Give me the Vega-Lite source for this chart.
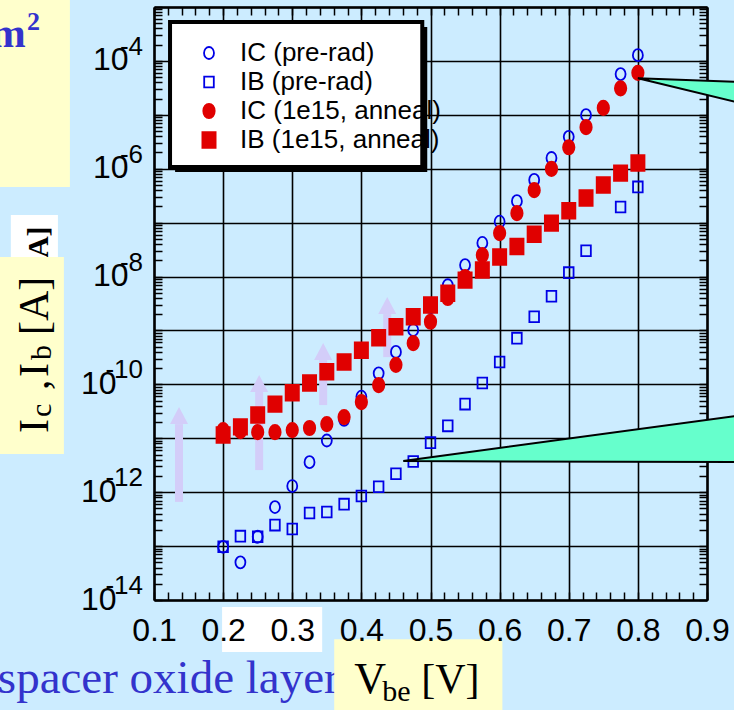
{
  "$schema": "https://vega.github.io/schema/vega-lite/v6.json",
  "width": 553,
  "height": 593,
  "autosize": {"type": "none"},
  "padding": {"left": 154, "top": 7, "right": 27, "bottom": 110},
  "config": {
    "background": "#CCECFF",
    "view": {"stroke": null},
    "font": "Liberation Sans"
  },
  "resolve": {"axis": {"x": "independent", "y": "independent"}},
  "datasets": {
    "pts": [
      {"s": "IC (pre-rad)", "x": 0.2, "y": 9.7e-14},
      {"s": "IC (pre-rad)", "x": 0.225, "y": 5.0e-14},
      {"s": "IC (pre-rad)", "x": 0.25, "y": 1.49e-13},
      {"s": "IC (pre-rad)", "x": 0.275, "y": 5.3e-13},
      {"s": "IC (pre-rad)", "x": 0.3, "y": 1.3e-12},
      {"s": "IC (pre-rad)", "x": 0.325, "y": 3.6e-12},
      {"s": "IC (pre-rad)", "x": 0.35, "y": 9.1e-12},
      {"s": "IC (pre-rad)", "x": 0.375, "y": 2.2e-11},
      {"s": "IC (pre-rad)", "x": 0.4, "y": 5.9e-11},
      {"s": "IC (pre-rad)", "x": 0.425, "y": 1.6e-10},
      {"s": "IC (pre-rad)", "x": 0.45, "y": 4.0e-10},
      {"s": "IC (pre-rad)", "x": 0.475, "y": 1.02e-9},
      {"s": "IC (pre-rad)", "x": 0.5, "y": 2.7e-9},
      {"s": "IC (pre-rad)", "x": 0.525, "y": 6.9e-9},
      {"s": "IC (pre-rad)", "x": 0.55, "y": 1.63e-8},
      {"s": "IC (pre-rad)", "x": 0.575, "y": 4.2e-8},
      {"s": "IC (pre-rad)", "x": 0.6, "y": 1.04e-7},
      {"s": "IC (pre-rad)", "x": 0.625, "y": 2.5e-7},
      {"s": "IC (pre-rad)", "x": 0.65, "y": 6.2e-7},
      {"s": "IC (pre-rad)", "x": 0.675, "y": 1.58e-6},
      {"s": "IC (pre-rad)", "x": 0.7, "y": 3.9e-6},
      {"s": "IC (pre-rad)", "x": 0.725, "y": 9.9e-6},
      {"s": "IC (pre-rad)", "x": 0.775, "y": 5.7e-5},
      {"s": "IC (pre-rad)", "x": 0.8, "y": 1.28e-4},
      {"s": "IB (pre-rad)", "x": 0.2, "y": 9.7e-14},
      {"s": "IB (pre-rad)", "x": 0.225, "y": 1.53e-13},
      {"s": "IB (pre-rad)", "x": 0.25, "y": 1.49e-13},
      {"s": "IB (pre-rad)", "x": 0.275, "y": 2.45e-13},
      {"s": "IB (pre-rad)", "x": 0.3, "y": 2.07e-13},
      {"s": "IB (pre-rad)", "x": 0.325, "y": 4.1e-13},
      {"s": "IB (pre-rad)", "x": 0.35, "y": 4.3e-13},
      {"s": "IB (pre-rad)", "x": 0.375, "y": 6.0e-13},
      {"s": "IB (pre-rad)", "x": 0.4, "y": 8.5e-13},
      {"s": "IB (pre-rad)", "x": 0.425, "y": 1.26e-12},
      {"s": "IB (pre-rad)", "x": 0.45, "y": 2.2e-12},
      {"s": "IB (pre-rad)", "x": 0.475, "y": 3.7e-12},
      {"s": "IB (pre-rad)", "x": 0.5, "y": 8.3e-12},
      {"s": "IB (pre-rad)", "x": 0.525, "y": 1.7e-11},
      {"s": "IB (pre-rad)", "x": 0.55, "y": 4.3e-11},
      {"s": "IB (pre-rad)", "x": 0.575, "y": 1.06e-10},
      {"s": "IB (pre-rad)", "x": 0.6, "y": 2.6e-10},
      {"s": "IB (pre-rad)", "x": 0.625, "y": 7.2e-10},
      {"s": "IB (pre-rad)", "x": 0.65, "y": 1.8e-9},
      {"s": "IB (pre-rad)", "x": 0.675, "y": 4.3e-9},
      {"s": "IB (pre-rad)", "x": 0.7, "y": 1.18e-8},
      {"s": "IB (pre-rad)", "x": 0.725, "y": 3.0e-8},
      {"s": "IB (pre-rad)", "x": 0.775, "y": 1.95e-7},
      {"s": "IB (pre-rad)", "x": 0.8, "y": 4.6e-7},
      {"s": "IC (1e15, anneal)", "x": 0.2, "y": 1.42e-11},
      {"s": "IC (1e15, anneal)", "x": 0.225, "y": 1.36e-11},
      {"s": "IC (1e15, anneal)", "x": 0.25, "y": 1.3e-11},
      {"s": "IC (1e15, anneal)", "x": 0.275, "y": 1.3e-11},
      {"s": "IC (1e15, anneal)", "x": 0.3, "y": 1.42e-11},
      {"s": "IC (1e15, anneal)", "x": 0.325, "y": 1.55e-11},
      {"s": "IC (1e15, anneal)", "x": 0.35, "y": 1.83e-11},
      {"s": "IC (1e15, anneal)", "x": 0.375, "y": 2.47e-11},
      {"s": "IC (1e15, anneal)", "x": 0.4, "y": 4.7e-11},
      {"s": "IC (1e15, anneal)", "x": 0.425, "y": 9.7e-11},
      {"s": "IC (1e15, anneal)", "x": 0.45, "y": 2.3e-10},
      {"s": "IC (1e15, anneal)", "x": 0.475, "y": 5.8e-10},
      {"s": "IC (1e15, anneal)", "x": 0.5, "y": 1.45e-9},
      {"s": "IC (1e15, anneal)", "x": 0.525, "y": 4.0e-9},
      {"s": "IC (1e15, anneal)", "x": 0.55, "y": 9.8e-9},
      {"s": "IC (1e15, anneal)", "x": 0.575, "y": 2.5e-8},
      {"s": "IC (1e15, anneal)", "x": 0.6, "y": 6.4e-8},
      {"s": "IC (1e15, anneal)", "x": 0.625, "y": 1.5e-7},
      {"s": "IC (1e15, anneal)", "x": 0.65, "y": 4.0e-7},
      {"s": "IC (1e15, anneal)", "x": 0.675, "y": 9.9e-7},
      {"s": "IC (1e15, anneal)", "x": 0.7, "y": 2.5e-6},
      {"s": "IC (1e15, anneal)", "x": 0.725, "y": 5.9e-6},
      {"s": "IC (1e15, anneal)", "x": 0.75, "y": 1.34e-5},
      {"s": "IC (1e15, anneal)", "x": 0.775, "y": 3.1e-5},
      {"s": "IC (1e15, anneal)", "x": 0.8, "y": 6.0e-5},
      {"s": "IB (1e15, anneal)", "x": 0.2, "y": 1.15e-11},
      {"s": "IB (1e15, anneal)", "x": 0.225, "y": 1.63e-11},
      {"s": "IB (1e15, anneal)", "x": 0.25, "y": 2.7e-11},
      {"s": "IB (1e15, anneal)", "x": 0.275, "y": 4.3e-11},
      {"s": "IB (1e15, anneal)", "x": 0.3, "y": 7.0e-11},
      {"s": "IB (1e15, anneal)", "x": 0.325, "y": 1.06e-10},
      {"s": "IB (1e15, anneal)", "x": 0.35, "y": 1.71e-10},
      {"s": "IB (1e15, anneal)", "x": 0.375, "y": 2.6e-10},
      {"s": "IB (1e15, anneal)", "x": 0.4, "y": 4.3e-10},
      {"s": "IB (1e15, anneal)", "x": 0.425, "y": 7.3e-10},
      {"s": "IB (1e15, anneal)", "x": 0.45, "y": 1.17e-9},
      {"s": "IB (1e15, anneal)", "x": 0.475, "y": 1.8e-9},
      {"s": "IB (1e15, anneal)", "x": 0.5, "y": 2.96e-9},
      {"s": "IB (1e15, anneal)", "x": 0.525, "y": 4.9e-9},
      {"s": "IB (1e15, anneal)", "x": 0.55, "y": 8.6e-9},
      {"s": "IB (1e15, anneal)", "x": 0.575, "y": 1.32e-8},
      {"s": "IB (1e15, anneal)", "x": 0.6, "y": 2.3e-8},
      {"s": "IB (1e15, anneal)", "x": 0.625, "y": 3.6e-8},
      {"s": "IB (1e15, anneal)", "x": 0.65, "y": 6.1e-8},
      {"s": "IB (1e15, anneal)", "x": 0.675, "y": 9.8e-8},
      {"s": "IB (1e15, anneal)", "x": 0.7, "y": 1.66e-7},
      {"s": "IB (1e15, anneal)", "x": 0.725, "y": 2.86e-7},
      {"s": "IB (1e15, anneal)", "x": 0.75, "y": 5.0e-7},
      {"s": "IB (1e15, anneal)", "x": 0.775, "y": 8.3e-7},
      {"s": "IB (1e15, anneal)", "x": 0.8, "y": 1.28e-6}
    ],
    "arrows": [
      {"x": 0.1362, "y": 6.6e-13, "y2": 1.83e-11},
      {"x": 0.2521, "y": 2.57e-12, "y2": 7.2e-11},
      {"x": 0.3447, "y": 4.13e-11, "y2": 2.82e-10},
      {"x": 0.4374, "y": 3.2e-10, "y2": 2.01e-9}
    ],
    "tri": [
      {"g": "a", "x": 0.8, "y": 4.755e-5, "y2": 4.755e-5},
      {"g": "a", "x": 0.95, "y": 4.076e-5, "y2": 1.634e-5},
      {"g": "b", "x": 0.4606, "y": 3.776e-12, "y2": 3.776e-12},
      {"g": "b", "x": 0.95, "y": 2.683e-11, "y2": 3.617e-12}
    ],
    "triL": [
      {"g": "a", "o": 0, "x": 0.95, "y": 4.076e-5},
      {"g": "a", "o": 1, "x": 0.8, "y": 4.755e-5},
      {"g": "a", "o": 2, "x": 0.95, "y": 1.634e-5},
      {"g": "b", "o": 0, "x": 0.95, "y": 2.683e-11},
      {"g": "b", "o": 1, "x": 0.4606, "y": 3.776e-12},
      {"g": "b", "o": 2, "x": 0.95, "y": 3.617e-12}
    ],
    "expo": [
      {"y": 1e-4, "e": "-4"},
      {"y": 1e-6, "e": "-6"},
      {"y": 1e-8, "e": "-8"},
      {"y": 1e-10, "e": "-10"},
      {"y": 1e-12, "e": "-12"},
      {"y": 1e-14, "e": "-14"}
    ],
    "ytb": [
      {"t": "I", "y": 1.249e-11},
      {"t": ",", "y": 7.84e-11},
      {"t": "I", "y": 1.366e-10},
      {"t": "[A]", "y": 8.216e-10}
    ],
    "yts": [
      {"t": "c", "y": 2.473e-11},
      {"t": "b", "y": 2.823e-10}
    ],
    "one": [{}]
  },
  "layer": [
    {
      "data": {"name": "pts"},
      "mark": {"type": "point", "opacity": 0},
      "encoding": {
        "x": {"field": "x", "type": "quantitative", "scale": {"domain": [0.1, 0.9], "nice": false, "zero": false},
          "axis": {"orient": "top", "values": [0.1,0.12,0.14,0.16,0.18,0.2,0.22,0.24,0.26,0.28,0.3,0.32,0.34,0.36,0.38,0.4,0.42,0.44,0.46,0.48,0.5,0.52,0.54,0.56,0.58,0.6,0.62,0.64,0.66,0.68,0.7,0.72,0.74,0.76,0.78,0.8,0.82,0.84,0.86,0.88,0.9],
            "labels": false, "title": null, "tickSize": -8, "tickWidth": 1.5, "tickColor": "black", "domainColor": "black", "domainWidth": 2.5,
            "grid": true, "gridColor": "black", "gridWidth": 1.6,
            "gridOpacity": {"condition": {"test": "abs(datum.value*10 - round(datum.value*10)) < 1e-6", "value": 1}, "value": 0},
            "zindex": 0}},
        "y": {"field": "y", "type": "quantitative", "scale": {"type": "log", "domain": [1e-14, 1e-3], "nice": false},
          "axis": {"orient": "right", "values": [1e-14,2e-14,3e-14,4e-14,5e-14,6e-14,7e-14,8e-14,9e-14,1e-13,2e-13,3e-13,4e-13,5e-13,6e-13,7e-13,8e-13,9e-13,1e-12,2e-12,3e-12,4e-12,5e-12,6e-12,7e-12,8e-12,9e-12,1e-11,2e-11,3e-11,4e-11,5e-11,6e-11,7e-11,8e-11,9e-11,1e-10,2e-10,3e-10,4e-10,5e-10,6e-10,7e-10,8e-10,9e-10,1e-9,2e-9,3e-9,4e-9,5e-9,6e-9,7e-9,8e-9,9e-9,1e-8,2e-8,3e-8,4e-8,5e-8,6e-8,7e-8,8e-8,9e-8,1e-7,2e-7,3e-7,4e-7,5e-7,6e-7,7e-7,8e-7,9e-7,1e-6,2e-6,3e-6,4e-6,5e-6,6e-6,7e-6,8e-6,9e-6,1e-5,2e-5,3e-5,4e-5,5e-5,6e-5,7e-5,8e-5,9e-5,1e-4,2e-4,3e-4,4e-4,5e-4,6e-4,7e-4,8e-4,9e-4,1e-3],
            "labels": false, "title": null, "tickSize": -8, "tickWidth": 1.5, "tickColor": "black", "domainColor": "black", "domainWidth": 2.5,
            "grid": true, "gridColor": "black", "gridWidth": 1.6,
            "gridOpacity": {"condition": {"test": "abs(log(datum.value)/LN10 - round(log(datum.value)/LN10)) < 0.001", "value": 1}, "value": 0},
            "zindex": 0}}
      }
    },
    {
      "data": {"name": "arrows"},
      "mark": {"type": "rule", "color": "#D3CDF9", "strokeWidth": 8},
      "encoding": {
        "x": {"field": "x", "type": "quantitative", "scale": {"domain": [0.1, 0.9], "nice": false, "zero": false}, "axis": null},
        "y": {"field": "y", "type": "quantitative", "scale": {"type": "log", "domain": [1e-14, 1e-3], "nice": false}, "axis": null},
        "y2": {"field": "y2"}
      }
    },
    {
      "data": {"name": "arrows"},
      "mark": {"type": "point", "filled": true, "opacity": 1, "color": "#D3CDF9", "shape": "M0,-1.9L1,0L-1,0Z", "size": 324},
      "encoding": {
        "x": {"field": "x", "type": "quantitative", "scale": {"domain": [0.1, 0.9], "nice": false, "zero": false}, "axis": null},
        "y": {"field": "y2", "type": "quantitative", "scale": {"type": "log", "domain": [1e-14, 1e-3], "nice": false}, "axis": null}
      }
    },
    {
      "data": {"name": "pts"},
      "mark": {"type": "point", "filled": false, "opacity": 1, "size": 144, "strokeWidth": 1.8},
      "encoding": {
        "x": {"field": "x", "type": "quantitative", "scale": {"domain": [0.1, 0.9], "nice": false, "zero": false},
          "axis": {"orient": "bottom", "values": [0.1,0.12,0.14,0.16,0.18,0.2,0.22,0.24,0.26,0.28,0.3,0.32,0.34,0.36,0.38,0.4,0.42,0.44,0.46,0.48,0.5,0.52,0.54,0.56,0.58,0.6,0.62,0.64,0.66,0.68,0.7,0.72,0.74,0.76,0.78,0.8,0.82,0.84,0.86,0.88,0.9],
            "labelExpr": "abs(datum.value*10 - round(datum.value*10)) < 1e-6 ? format(datum.value, '.1f') : ''",
            "labelFont": "Liberation Sans", "labelFontSize": 32, "labelColor": "black", "labelBaseline": "alphabetic", "labelPadding": 48,
            "labelOverlap": false, "labelFlush": false, "labelBound": false,
            "title": null, "tickSize": -8, "tickWidth": 1.5, "tickColor": "black", "domainColor": "black", "domainWidth": 2.5,
            "grid": false, "zindex": 1}},
        "y": {"field": "y", "type": "quantitative", "scale": {"type": "log", "domain": [1e-14, 1e-3], "nice": false},
          "axis": {"orient": "left", "values": [1e-14,2e-14,3e-14,4e-14,5e-14,6e-14,7e-14,8e-14,9e-14,1e-13,2e-13,3e-13,4e-13,5e-13,6e-13,7e-13,8e-13,9e-13,1e-12,2e-12,3e-12,4e-12,5e-12,6e-12,7e-12,8e-12,9e-12,1e-11,2e-11,3e-11,4e-11,5e-11,6e-11,7e-11,8e-11,9e-11,1e-10,2e-10,3e-10,4e-10,5e-10,6e-10,7e-10,8e-10,9e-10,1e-9,2e-9,3e-9,4e-9,5e-9,6e-9,7e-9,8e-9,9e-9,1e-8,2e-8,3e-8,4e-8,5e-8,6e-8,7e-8,8e-8,9e-8,1e-7,2e-7,3e-7,4e-7,5e-7,6e-7,7e-7,8e-7,9e-7,1e-6,2e-6,3e-6,4e-6,5e-6,6e-6,7e-6,8e-6,9e-6,1e-5,2e-5,3e-5,4e-5,5e-5,6e-5,7e-5,8e-5,9e-5,1e-4,2e-4,3e-4,4e-4,5e-4,6e-4,7e-4,8e-4,9e-4,1e-3],
            "labelExpr": "(abs(log(datum.value)/LN10 - round(log(datum.value)/LN10)) < 0.001 && round(log(datum.value)/LN10) % 2 == 0 && datum.value < 5e-4) ? '10' : ''",
            "labelFont": "Liberation Sans", "labelFontSize": 32, "labelColor": "black", "labelBaseline": "alphabetic", "labelAlign": "right", "labelOffset": 9,
            "labelPadding": {"condition": {"test": "datum.value < 1e-9", "value": 46}, "value": 34},
            "labelOverlap": false, "labelFlush": false, "labelBound": false,
            "title": null, "tickSize": -8, "tickWidth": 1.5, "tickColor": "black", "domainColor": "black", "domainWidth": 2.5,
            "grid": false, "zindex": 1}},
        "color": {"field": "s", "type": "nominal",
          "scale": {"domain": ["IC (pre-rad)", "IB (pre-rad)", "IC (1e15, anneal)", "IB (1e15, anneal)"], "range": ["#0000E6", "#0000E6", "#E00000", "#E00000"]},
          "legend": {"title": null, "orient": "none", "legendX": 42, "legendY": 31.5, "labelFont": "Liberation Sans", "labelFontSize": 26,
            "symbolSize": 144, "symbolStrokeWidth": 1.8, "rowPadding": 0, "clipHeight": 29, "labelOffset": 18, "padding": 0, "labelLimit": 400,
            "encode": {"labels": {"update": {"fill": {"scale": "color", "field": "value"}}}}}},
        "fill": {"field": "s", "type": "nominal",
          "scale": {"domain": ["IC (pre-rad)", "IB (pre-rad)", "IC (1e15, anneal)", "IB (1e15, anneal)"], "range": ["transparent", "transparent", "#E00000", "#E00000"]},
          "legend": {"title": null, "orient": "none", "legendX": 42, "legendY": 31.5, "labelFont": "Liberation Sans", "labelFontSize": 26,
            "symbolSize": 144, "symbolStrokeWidth": 1.8, "rowPadding": 0, "clipHeight": 29, "labelOffset": 18, "padding": 0, "labelLimit": 400,
            "encode": {"labels": {"update": {"fill": {"scale": "color", "field": "value"}}}}}},
        "shape": {"field": "s", "type": "nominal",
          "scale": {"domain": ["IC (pre-rad)", "IB (pre-rad)", "IC (1e15, anneal)", "IB (1e15, anneal)"],
            "range": ["M0,-1A0.83,1 0 1,1 0,1A0.83,1 0 1,1 0,-1Z", "M-0.8,-0.9H0.8V0.9H-0.8Z", "M0,-1.2A0.95,1.2 0 1,1 0,1.2A0.95,1.2 0 1,1 0,-1.2Z", "M-1.1,-1.3H1.1V1.3H-1.1Z"]},
          "legend": {"title": null, "orient": "none", "legendX": 42, "legendY": 31.5, "labelFont": "Liberation Sans", "labelFontSize": 26,
            "symbolSize": 144, "symbolStrokeWidth": 1.8, "rowPadding": 0, "clipHeight": 29, "labelOffset": 18, "padding": 0, "labelLimit": 400,
            "encode": {"labels": {"update": {"fill": {"scale": "color", "field": "value"}}}}}}
      }
    },
    {
      "data": {"name": "one"},
      "mark": {"type": "rect", "color": "black"},
      "encoding": {
        "x": {"datum": 0.1305, "type": "quantitative", "scale": {"domain": [0.1, 0.9], "nice": false, "zero": false}, "axis": null},
        "x2": {"datum": 0.4953},
        "y": {"datum": 4.26e-4, "type": "quantitative", "scale": {"type": "log", "domain": [1e-14, 1e-3], "nice": false}, "axis": null},
        "y2": {"datum": 8.69e-7}
      }
    },
    {
      "data": {"name": "one"},
      "mark": {"type": "rect", "fill": "white", "stroke": "black", "strokeWidth": 4},
      "encoding": {
        "x": {"datum": 0.1232, "type": "quantitative", "scale": {"domain": [0.1, 0.9], "nice": false, "zero": false}, "axis": null},
        "x2": {"datum": 0.4881},
        "y": {"datum": 5.27e-4, "type": "quantitative", "scale": {"type": "log", "domain": [1e-14, 1e-3], "nice": false}, "axis": null},
        "y2": {"datum": 1.076e-6}
      }
    },
    {
      "data": {"name": "tri"},
      "mark": {"type": "area", "color": "#66FFCC", "opacity": 1},
      "encoding": {
        "x": {"field": "x", "type": "quantitative", "scale": {"domain": [0.1, 0.9], "nice": false, "zero": false}, "axis": null},
        "y": {"field": "y", "type": "quantitative", "scale": {"type": "log", "domain": [1e-14, 1e-3], "nice": false}, "axis": null},
        "y2": {"field": "y2"},
        "detail": {"field": "g", "type": "nominal"}
      }
    },
    {
      "data": {"name": "triL"},
      "mark": {"type": "line", "color": "black", "strokeWidth": 2},
      "encoding": {
        "x": {"field": "x", "type": "quantitative", "scale": {"domain": [0.1, 0.9], "nice": false, "zero": false}, "axis": null},
        "y": {"field": "y", "type": "quantitative", "scale": {"type": "log", "domain": [1e-14, 1e-3], "nice": false}, "axis": null},
        "detail": {"field": "g", "type": "nominal"},
        "order": {"field": "o", "type": "quantitative"}
      }
    },
    {
      "data": {"name": "one"},
      "mark": {"type": "rect", "color": "#FFFFCC"},
      "encoding": {
        "x": {"datum": -0.125, "type": "quantitative", "scale": {"domain": [0.1, 0.9], "nice": false, "zero": false}, "axis": null},
        "x2": {"datum": -0.02165},
        "y": {"datum": 1.67e-3, "type": "quantitative", "scale": {"type": "log", "domain": [1e-14, 1e-3], "nice": false}, "axis": null},
        "y2": {"datum": 4.575e-7}
      }
    },
    {
      "data": {"name": "one"},
      "mark": {"type": "text", "text": "m", "font": "Liberation Serif", "fontWeight": "bold", "fontSize": 42, "color": "#3333CC", "align": "right", "baseline": "alphabetic"},
      "encoding": {
        "x": {"datum": -0.08537, "type": "quantitative", "scale": {"domain": [0.1, 0.9], "nice": false, "zero": false}, "axis": null},
        "y": {"datum": 1.81e-4, "type": "quantitative", "scale": {"type": "log", "domain": [1e-14, 1e-3], "nice": false}, "axis": null}
      }
    },
    {
      "data": {"name": "one"},
      "mark": {"type": "text", "text": "2", "font": "Liberation Serif", "fontWeight": "bold", "fontSize": 26, "color": "#3333CC", "align": "left", "baseline": "alphabetic"},
      "encoding": {
        "x": {"datum": -0.0839, "type": "quantitative", "scale": {"domain": [0.1, 0.9], "nice": false, "zero": false}, "axis": null},
        "y": {"datum": 3.745e-4, "type": "quantitative", "scale": {"type": "log", "domain": [1e-14, 1e-3], "nice": false}, "axis": null}
      }
    },
    {
      "data": {"name": "one"},
      "mark": {"type": "rect", "color": "white"},
      "encoding": {
        "x": {"datum": -0.1071, "type": "quantitative", "scale": {"domain": [0.1, 0.9], "nice": false, "zero": false}, "axis": null},
        "x2": {"datum": -0.039},
        "y": {"datum": 1.384e-7, "type": "quantitative", "scale": {"type": "log", "domain": [1e-14, 1e-3], "nice": false}, "axis": null},
        "y2": {"datum": 2.3e-8}
      }
    },
    {
      "data": {"name": "one"},
      "mark": {"type": "text", "text": "[A]", "font": "Liberation Serif", "fontWeight": "bold", "fontSize": 30, "color": "black", "align": "left", "baseline": "alphabetic", "angle": 270},
      "encoding": {
        "x": {"datum": -0.0535, "type": "quantitative", "scale": {"domain": [0.1, 0.9], "nice": false, "zero": false}, "axis": null},
        "y": {"datum": 1.438e-8, "type": "quantitative", "scale": {"type": "log", "domain": [1e-14, 1e-3], "nice": false}, "axis": null}
      }
    },
    {
      "data": {"name": "one"},
      "mark": {"type": "rect", "color": "#FFFFCC"},
      "encoding": {
        "x": {"datum": -0.125, "type": "quantitative", "scale": {"domain": [0.1, 0.9], "nice": false, "zero": false}, "axis": null},
        "x2": {"datum": -0.03034},
        "y": {"datum": 2.3e-8, "type": "quantitative", "scale": {"type": "log", "domain": [1e-14, 1e-3], "nice": false}, "axis": null},
        "y2": {"datum": 5.09e-12}
      }
    },
    {
      "data": {"name": "ytb"},
      "mark": {"type": "text", "font": "Liberation Serif", "fontSize": 42, "color": "black", "align": "left", "baseline": "alphabetic", "angle": 270},
      "encoding": {
        "x": {"datum": -0.0535, "type": "quantitative", "scale": {"domain": [0.1, 0.9], "nice": false, "zero": false}, "axis": null},
        "y": {"field": "y", "type": "quantitative", "scale": {"type": "log", "domain": [1e-14, 1e-3], "nice": false}, "axis": null},
        "text": {"field": "t"}
      }
    },
    {
      "data": {"name": "yts"},
      "mark": {"type": "text", "font": "Liberation Serif", "fontSize": 30, "color": "black", "align": "left", "baseline": "alphabetic", "angle": 270},
      "encoding": {
        "x": {"datum": -0.0492, "type": "quantitative", "scale": {"domain": [0.1, 0.9], "nice": false, "zero": false}, "axis": null},
        "y": {"field": "y", "type": "quantitative", "scale": {"type": "log", "domain": [1e-14, 1e-3], "nice": false}, "axis": null},
        "text": {"field": "t"}
      }
    },
    {
      "data": {"name": "one"},
      "mark": {"type": "rect", "color": "white"},
      "encoding": {
        "x": {"datum": 0.1985, "type": "quantitative", "scale": {"domain": [0.1, 0.9], "nice": false, "zero": false}, "axis": null},
        "x2": {"datum": 0.3433},
        "y": {"datum": 7.38e-15, "type": "quantitative", "scale": {"type": "log", "domain": [1e-14, 1e-3], "nice": false}, "axis": null},
        "y2": {"datum": 1.08e-15}
      }
    },
    {
      "data": {"name": "one"},
      "mark": {"type": "text", "text": "spacer oxide layer", "font": "Liberation Serif", "fontSize": 47, "color": "#3333CC", "align": "left", "baseline": "alphabetic"},
      "encoding": {
        "x": {"datum": -0.1259, "type": "quantitative", "scale": {"domain": [0.1, 0.9], "nice": false, "zero": false}, "axis": null},
        "y": {"datum": 1.875e-16, "type": "quantitative", "scale": {"type": "log", "domain": [1e-14, 1e-3], "nice": false}, "axis": null}
      }
    },
    {
      "data": {"name": "one"},
      "mark": {"type": "rect", "color": "#FFFFCC"},
      "encoding": {
        "x": {"datum": 0.3607, "type": "quantitative", "scale": {"domain": [0.1, 0.9], "nice": false, "zero": false}, "axis": null},
        "x2": {"datum": 0.604},
        "y": {"datum": 1.88e-15, "type": "quantitative", "scale": {"type": "log", "domain": [1e-14, 1e-3], "nice": false}, "axis": null},
        "y2": {"datum": 7.3e-17}
      }
    },
    {
      "data": {"name": "one"},
      "mark": {"type": "text", "text": "V", "font": "Liberation Serif", "fontSize": 44, "color": "black", "align": "left", "baseline": "alphabetic"},
      "encoding": {
        "x": {"datum": 0.38965, "type": "quantitative", "scale": {"domain": [0.1, 0.9], "nice": false, "zero": false}, "axis": null},
        "y": {"datum": 1.875e-16, "type": "quantitative", "scale": {"type": "log", "domain": [1e-14, 1e-3], "nice": false}, "axis": null}
      }
    },
    {
      "data": {"name": "one"},
      "mark": {"type": "text", "text": "be", "font": "Liberation Serif", "fontSize": 30, "color": "black", "align": "left", "baseline": "alphabetic"},
      "encoding": {
        "x": {"datum": 0.4302, "type": "quantitative", "scale": {"domain": [0.1, 0.9], "nice": false, "zero": false}, "axis": null},
        "y": {"datum": 1.33e-16, "type": "quantitative", "scale": {"type": "log", "domain": [1e-14, 1e-3], "nice": false}, "axis": null}
      }
    },
    {
      "data": {"name": "one"},
      "mark": {"type": "text", "text": "[V]", "font": "Liberation Serif", "fontSize": 42, "color": "black", "align": "left", "baseline": "alphabetic"},
      "encoding": {
        "x": {"datum": 0.4867, "type": "quantitative", "scale": {"domain": [0.1, 0.9], "nice": false, "zero": false}, "axis": null},
        "y": {"datum": 1.875e-16, "type": "quantitative", "scale": {"type": "log", "domain": [1e-14, 1e-3], "nice": false}, "axis": null}
      }
    },
    {
      "data": {"name": "expo"},
      "mark": {"type": "text", "font": "Liberation Sans", "fontSize": 26, "color": "black", "align": "right", "baseline": "alphabetic", "dy": -6},
      "encoding": {
        "x": {"datum": 0.0841, "type": "quantitative", "scale": {"domain": [0.1, 0.9], "nice": false, "zero": false}, "axis": null},
        "y": {"field": "y", "type": "quantitative", "scale": {"type": "log", "domain": [1e-14, 1e-3], "nice": false}, "axis": null},
        "text": {"field": "e"}
      }
    }
  ]
}
